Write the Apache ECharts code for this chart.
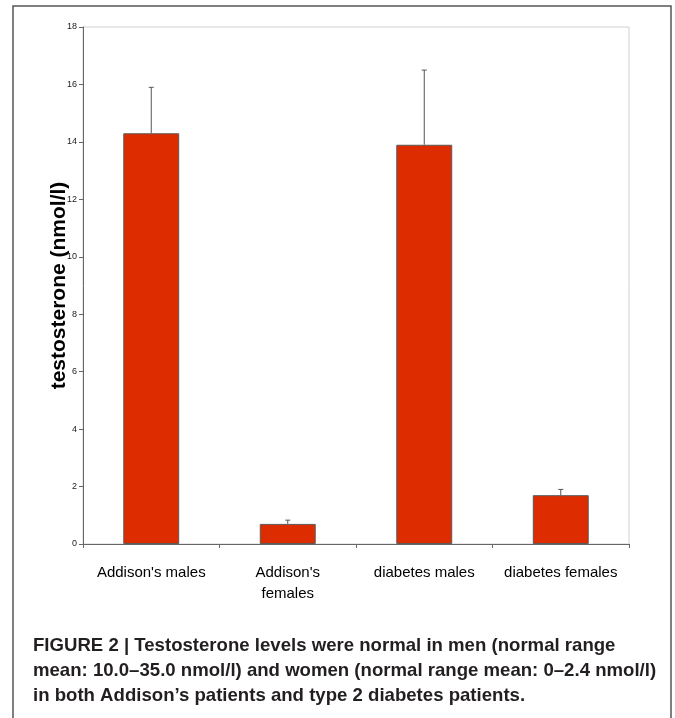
<!DOCTYPE html>
<html>
<head>
<meta charset="utf-8">
<script src="https://cdn.jsdelivr.net/npm/echarts@6/dist/echarts.min.js"></script>
<style>
html,body{margin:0;padding:0;background:#fff;}
#chart{width:675px;height:718px;}
</style>
</head>
<body>
<div id="chart"></div>
<script>
var categories = ["Addison's males", "Addison's females", "diabetes males", "diabetes females"];
var means = [14.3, 0.7, 13.9, 1.7];
var errorTops = [15.9, 0.83, 16.5, 1.9];
var yTicks = [0, 2, 4, 6, 8, 10, 12, 14, 16, 18];
var yAxisTitle = "testosterone (nmol/l)";
var captionLines = [
  "FIGURE 2 | Testosterone levels were normal in men (normal range",
  "mean: 10.0\u201335.0 nmol/l) and women (normal range mean: 0\u20132.4 nmol/l)",
  "in both Addison\u2019s patients and type 2 diabetes patients."
];

var chart = echarts.init(document.getElementById('chart'), null, {renderer: 'canvas'});
var errData = means.map(function (m, i) { return [i, m, errorTops[i]]; });

var option = {
  animation: false,
  backgroundColor: '#fff',
  grid: {left: 83, top: 27, right: 46, bottom: 174, show: true, borderColor: '#d0d0d0', borderWidth: 1, backgroundColor: 'transparent'},
  xAxis: {
    type: 'category',
    data: categories,
    boundaryGap: true,
    axisLine: {lineStyle: {color: '#666', width: 1}},
    axisTick: {show: true, alignWithLabel: false, length: 4, inside: false, lineStyle: {color: '#666'}},
    axisLabel: {
      color: '#000', fontSize: 15, fontFamily: 'Liberation Sans, Arial, sans-serif', margin: 18, lineHeight: 21,
      interval: 0,
      formatter: function (v) { return v === "Addison's females" ? "Addison's\nfemales" : v; }
    }
  },
  yAxis: {
    type: 'value',
    min: 0, max: 18, interval: 2,
    name: yAxisTitle,
    nameLocation: 'middle',
    nameRotate: 90,
    nameGap: 13,
    nameMoveOverlap: false,
    nameTextStyle: {color: '#000', fontSize: 21, fontWeight: 'bold', fontFamily: 'Liberation Sans, Arial, sans-serif'},
    axisLine: {show: true, lineStyle: {color: '#666', width: 1}},
    axisTick: {show: true, length: 4, lineStyle: {color: '#666'}},
    splitLine: {show: false},
    axisLabel: {
      color: '#222', fontSize: 9, fontFamily: 'Liberation Sans, Arial, sans-serif', margin: 6,
      formatter: function (v) { return yTicks.indexOf(v) >= 0 ? String(v) : ''; }
    }
  },
  series: [
    {
      type: 'bar',
      data: means,
      barWidth: '41%',
      itemStyle: {color: '#dd2c00', borderColor: '#5a5a5a', borderWidth: 1}
    },
    {
      type: 'custom',
      data: errData,
      z: 5,
      renderItem: function (params, api) {
        var x = api.value(0);
        var base = api.coord([x, api.value(1)]);
        var top = api.coord([x, api.value(2)]);
        var cap = 2.5;
        var style = {stroke: '#555', lineWidth: 1};
        return {
          type: 'group',
          children: [
            {type: 'line', shape: {x1: base[0], y1: base[1], x2: top[0], y2: top[1]}, style: style},
            {type: 'line', shape: {x1: top[0] - cap, y1: top[1], x2: top[0] + cap, y2: top[1]}, style: style}
          ]
        };
      }
    }
  ],
  graphic: [
    {
      type: 'rect', z: -1,
      shape: {x: 13, y: 6, width: 658, height: 730},
      style: {fill: 'none', stroke: '#555', lineWidth: 1.5}
    },
    {
      type: 'text',
      left: 33, top: 633,
      style: {
        text: captionLines.join('\n'),
        font: 'bold 18.6px "Liberation Sans", Arial, sans-serif',
        lineHeight: 25,
        fill: '#231f20'
      }
    }
  ]
};
chart.setOption(option);
</script>
</body>
</html>
